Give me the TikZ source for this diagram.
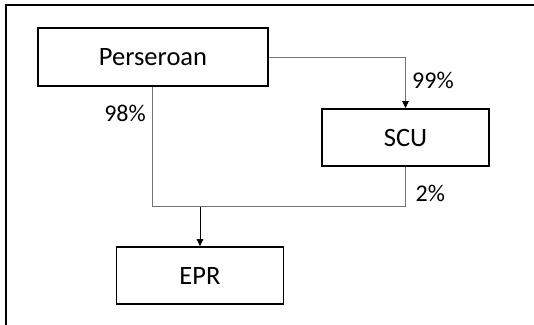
\documentclass[tikz,border=0pt]{standalone}
\usepackage{fontspec}
\setmainfont{Carlito}
\usetikzlibrary{arrows.meta}
\begin{document}
\begin{tikzpicture}[x=1pt,y=-1pt,
  box/.style={draw=black,line width=1.8pt,fill=white,inner sep=0pt,font=\fontsize{26.5}{30}\selectfont},
  conn/.style={draw=black!55,line width=0.8pt},
  tip/.style={-{Triangle[width=6.5pt,length=7pt,color=black]}},
  pct/.style={font=\fontsize{24}{28}\selectfont,inner sep=0pt}]
\useasboundingbox (0,0) rectangle (534,324);
\draw[line width=2pt] (5.5,325) -- (5.5,4.5) -- (535,4.5);
\node[box,minimum width=230pt,minimum height=58pt] (per) at (153,57) {Perseroan};
\node[box,minimum width=167pt,minimum height=57pt] (scu) at (405.5,137.5) {SCU};
\node[box,minimum width=167pt,minimum height=57pt] (epr) at (200,275.5) {EPR};
\coordinate (j) at (200,206.5);
\draw[conn,tip] (per.east) -| (scu.north);
\draw[conn] (per.south -| 152.7,0) |- (j) -| (scu.south);
\draw[line width=0.9pt,tip] (j) -- (epr.north);
\node[pct,anchor=west] (p99) at (412,80) {99\%};
\node[pct,anchor=east] (p98) at (146,113) {98\%};
\node[pct,anchor=west] (p2) at (415.5,193) {2\%};
\end{tikzpicture}
\end{document}
